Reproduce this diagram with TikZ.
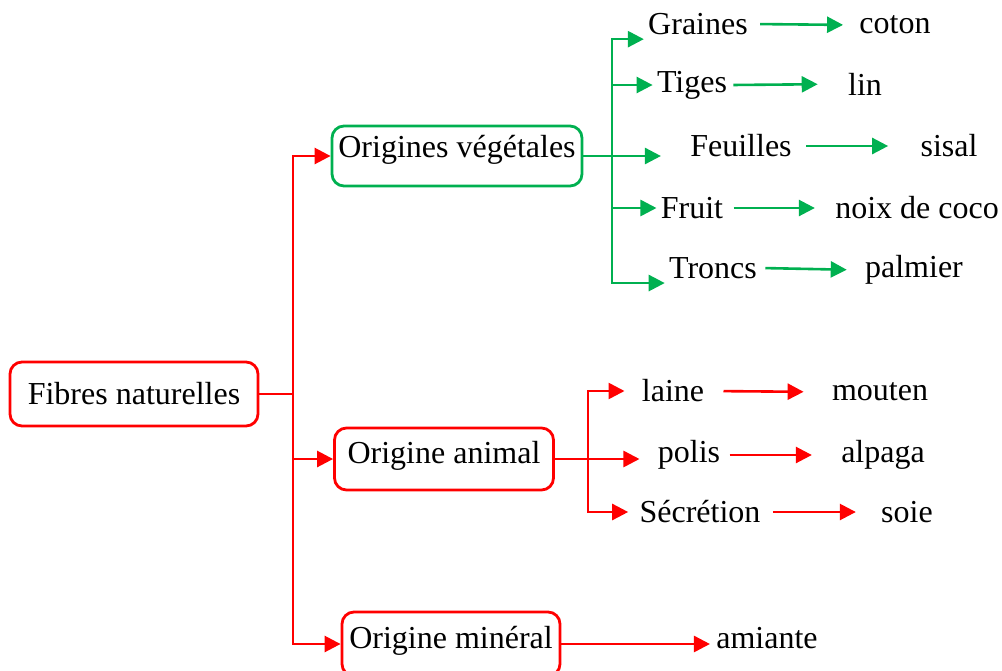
\documentclass[tikz,border=0pt]{standalone}
\usepackage{fontspec}
\setmainfont{Liberation Serif}
\usepackage{tikz}
\usetikzlibrary{arrows.meta}
\definecolor{rouge}{RGB}{255,0,0}
\definecolor{vert}{RGB}{0,176,80}
\begin{document}
\begin{tikzpicture}[x=0.5pt,y=-0.5pt, node font=\fontsize{16}{19}\selectfont,
	boite/.style={draw, line width=1.4pt, rounded corners=6pt, inner sep=3pt},
	mot/.style={inner sep=2pt},
	trait/.style={line width=1.3pt},
	fleche/.style={trait, -{Triangle[length=8pt,width=8pt]}}]
			\useasboundingbox (0,0) rectangle (1002,670);
			\node[boite, rouge, text=black, minimum width=124pt, minimum height=32pt] (fib) at (134,394) {Fibres naturelles};
			\node[boite, vert, text=black, minimum width=125pt, minimum height=30pt, text height=10pt, text depth=9pt] (veg) at (457,156) {Origines végétales};
			\node[boite, rouge, text=black, minimum width=109.5pt, minimum height=31pt, text height=10pt, text depth=6pt] (ani) at (444,459) {Origine animal};
			\node[boite, rouge, text=black, minimum width=109pt, minimum height=32pt, text height=10pt, text depth=6pt] (min) at (451,644) {Origine minéral};
			\node[mot] (gr) at (698,24) {Graines};
			\node[mot] (co) at (895,25) {coton};
			\node[mot] (ti) at (692,85) {Tiges};
			\node[mot] (li) at (865,84) {lin};
			\node[mot] (fe) at (741,146) {Feuilles};
			\node[mot] (si) at (949,146) {sisal};
			\node[mot] (fr) at (692,208) {Fruit};
			\node[mot] (no) at (917,208) {noix de coco};
			\node[mot] (tr) at (713,268) {Troncs};
			\node[mot] (pa) at (914,270) {palmier};
			\node[mot] (la) at (673,391) {laine};
			\node[mot] (mo) at (880,392) {mouten};
			\node[mot] (po) at (689,455) {polis};
			\node[mot] (al) at (883,455) {alpaga};
			\node[mot] (se) at (700,512) {Sécrétion};
			\node[mot] (so) at (907,512) {soie};
			\node[mot] (am) at (767,638) {amiante};
			\coordinate (jr) at (293,394);
			\coordinate (jg) at (612,156);
			\coordinate (ja) at (588,459);
			\draw [trait, rouge] (fib.east)-- (jr);
			\draw [fleche, rouge] (jr) |- (veg.west);
			\draw [fleche, rouge] (jr) |- (ani.west);
			\draw [fleche, rouge] (jr) |- (min.west);
			\draw [fleche, vert, shorten >=12.5pt] (veg.east)-- (fe.west |- veg.east);
			\draw [fleche, vert] (jg) |- (gr.south west);
			\draw [fleche, vert] (jg) |- (ti.west);
			\draw [fleche, vert] (jg) |- (fr.west);
			\draw [fleche, vert] (jg) |- (tr.south west);
			\draw [fleche, vert, shorten <=4pt, shorten >=6pt] (gr.east)-- (co.west);
			\draw [fleche, vert, shorten <=1pt, shorten >=13pt] (ti.east)-- (li.west);
			\draw [fleche, vert, shorten <=5pt, shorten >=14pt] (fe.east)-- (si.west);
			\draw [fleche, vert, shorten <=3pt, shorten >=8pt] (fr.east)-- (no.west);
			\draw [fleche, vert, shorten <=2pt, shorten >=7pt] (tr.east)-- (pa.west);
			\draw [fleche, rouge, shorten >=7pt] (ani.east)-- (po.west |- ani.east);
			\draw [fleche, rouge, shorten >=6.5pt] (ja) |- (la.west);
			\draw [fleche, rouge, shorten >=3.5pt] (ja) |- (se.west);
			\draw [fleche, rouge, shorten <=7.5pt, shorten >=12pt] (la.east)-- (mo.west);
			\draw [fleche, rouge, shorten <=2.5pt, shorten >=12.5pt] (po.east)-- (al.west);
			\draw [fleche, rouge, shorten <=4pt, shorten >=10.5pt] (se.east)-- (so.west);
			\draw [fleche, rouge, shorten >=1pt] (min.east)-- (am.west |- min.east);
		\end{tikzpicture}
\end{document}
